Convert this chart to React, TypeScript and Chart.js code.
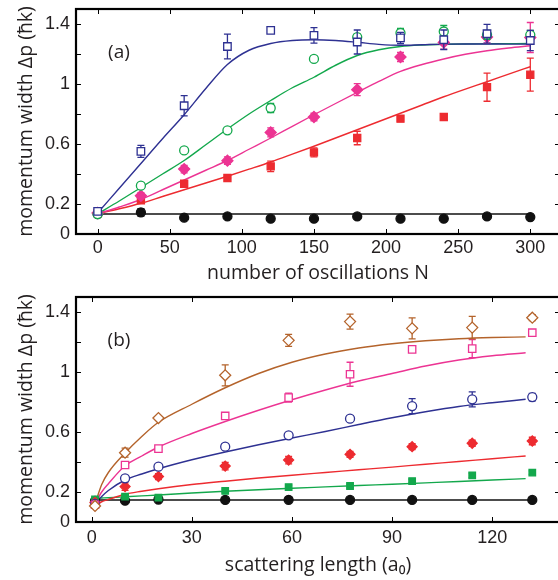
import React, { useEffect, useRef } from "react";
import { Chart, registerables } from "chart.js";
Chart.register(...registerables);

// ---------- Panel (a): momentum width vs number of oscillations ----------
const oscN = [0, 30, 60, 90, 120, 150, 180, 210, 240, 270, 300];
const aBlueSq = [0.151, 0.551, 0.855, 1.25, 1.357, 1.324, 1.28, 1.307, 1.295, 1.335, 1.29];
const aBlueSqErr = [0.012, 0.04, 0.067, 0.083, 0, 0.052, 0.08, 0.037, 0.065, 0.063, 0.067];
const aGreenCirc = [0.133, 0.322, 0.557, 0.691, 0.84, 1.167, 1.313, 1.34, 1.35, 1.328, 1.328];
const aGreenCircErr = [0, 0.01, 0.015, 0, 0.03, 0.01, 0.02, 0.03, 0.04, 0.03, 0.03];
const aMagDia = [0.14, 0.255, 0.433, 0.489, 0.677, 0.78, 0.962, 1.18, 1.277, 1.313, 1.31];
const aMagDiaErr = [0, 0.02, 0.025, 0.025, 0.03, 0.025, 0.04, 0.03, 0.045, 0.04, 0.1];
const aRedSq = [0.14, 0.224, 0.335, 0.373, 0.451, 0.544, 0.64, 0.769, 0.78, 0.979, 1.062];
const aRedSqErr = [0, 0.015, 0.02, 0.01, 0.035, 0.03, 0.045, 0.02, 0.02, 0.094, 0.11];
const aBlackCirc = [0.133, 0.144, 0.109, 0.117, 0.102, 0.102, 0.117, 0.102, 0.102, 0.117, 0.113];
const aBlackCircErr = [0, 0.025, 0, 0, 0, 0, 0, 0, 0, 0, 0];

const aFitN = [0, 15, 30, 45, 60, 75, 90, 105, 120, 135, 150, 165, 180, 195, 210, 225, 240, 255, 270, 285, 300];
const aFitBlue = [0.14, 0.305, 0.47, 0.635, 0.795, 0.97, 1.13, 1.225, 1.27, 1.29, 1.295, 1.29, 1.278, 1.264, 1.258, 1.262, 1.266, 1.267, 1.267, 1.266, 1.266];
const aFitGreen = [0.135, 0.22, 0.31, 0.4, 0.49, 0.595, 0.7, 0.8, 0.89, 0.975, 1.045, 1.125, 1.19, 1.228, 1.25, 1.26, 1.265, 1.267, 1.268, 1.269, 1.27];
const aFitMag = [0.135, 0.18, 0.23, 0.295, 0.36, 0.425, 0.49, 0.565, 0.64, 0.718, 0.795, 0.87, 0.944, 1.017, 1.084, 1.13, 1.167, 1.198, 1.222, 1.24, 1.255];
const aFitRed = [0.135, 0.168, 0.205, 0.25, 0.295, 0.34, 0.385, 0.432, 0.48, 0.532, 0.585, 0.64, 0.695, 0.75, 0.805, 0.86, 0.915, 0.966, 1.015, 1.066, 1.115];
const aFitBlackN = [0, 300];
const aFitBlack = [0.133, 0.133];

const aXTicks = [0, 50, 100, 150, 200, 250, 300];
const aXTickLabels = ["0", "50", "100", "150", "200", "250", "300"];

// ---------- Panel (b): momentum width vs scattering length ----------
const scatA = [1, 10, 20, 40, 59, 77.4, 96, 114, 132];
const bBrownDia = [0.107, 0.462, 0.693, 0.978, 1.211, 1.336, 1.291, 1.296, 1.362];
const bBrownDiaErr = [0, 0.03, 0, 0.07, 0.04, 0.05, 0.07, 0.075, 0.02];
const bPinkSq = [0.115, 0.38, 0.489, 0.707, 0.829, 0.985, 1.151, 1.156, 1.262];
const bPinkSqErr = [0, 0, 0, 0, 0.03, 0.08, 0.02, 0.06, 0.015];
const bBlueCirc = [0.12, 0.291, 0.369, 0.502, 0.578, 0.689, 0.773, 0.818, 0.833];
const bBlueCircErr = [0, 0, 0, 0.02, 0.015, 0, 0.05, 0.05, 0.025];
const bRedDia = [0.13, 0.236, 0.303, 0.373, 0.413, 0.451, 0.502, 0.525, 0.54];
const bRedDiaErr = [0, 0.025, 0.02, 0.025, 0.025, 0.02, 0.02, 0.02, 0.025];
const bGreenSq = [0.15, 0.169, 0.162, 0.207, 0.233, 0.24, 0.273, 0.311, 0.329];
const bGreenSqErr = [0, 0.01, 0.01, 0.012, 0.012, 0.012, 0.012, 0.015, 0.012];
const bBlackCirc = [0.14, 0.142, 0.15, 0.147, 0.148, 0.147, 0.147, 0.147, 0.147];

const bFitA = [1, 3, 5, 10, 15, 20, 30, 40, 50, 60, 70, 80, 90, 100, 110, 120, 130];
const bFitBrown = [0.12, 0.25, 0.33, 0.46, 0.57, 0.665, 0.785, 0.895, 0.99, 1.065, 1.12, 1.16, 1.188, 1.208, 1.222, 1.23, 1.234];
const bFitPink = [0.12, 0.2, 0.255, 0.375, 0.44, 0.5, 0.59, 0.67, 0.745, 0.815, 0.88, 0.94, 0.99, 1.04, 1.08, 1.108, 1.128];
const bFitBlue = [0.12, 0.17, 0.21, 0.28, 0.32, 0.355, 0.415, 0.467, 0.515, 0.56, 0.603, 0.65, 0.695, 0.735, 0.77, 0.795, 0.818];
const bFitRed = [0.11, 0.135, 0.15, 0.185, 0.205, 0.222, 0.25, 0.272, 0.293, 0.312, 0.33, 0.348, 0.366, 0.385, 0.403, 0.422, 0.44];
const bFitGreen = [0.158, 0.16, 0.162, 0.168, 0.174, 0.18, 0.193, 0.205, 0.215, 0.225, 0.234, 0.243, 0.252, 0.261, 0.27, 0.28, 0.289];
const bFitBlackA = [1, 132];
const bFitBlack = [0.147, 0.147];

const bXTicks = [0, 30, 60, 90, 120];
const bXTickLabels = ["0", "30", "60", "90", "120"];

// ---------- shared y axis ticks ----------
const yTicks = [0, 0.2, 0.4, 0.6, 0.8, 1.0, 1.2, 1.4];
const yTickLabels = ["0", "0.2", "", "0.6", "", "1", "", "1.4"];

const NAVY = "#2e3192";
const GREEN = "#13a84c";
const MAGENTA = "#ec3493";
const RED = "#ed2b30";
const BROWN = "#b4632b";
const BLACK = "#111111";

const TITLE_FONT = "'Open Sans', 'DejaVu Sans', sans-serif";
const TICK_FONT = "'Liberation Sans', Arial, sans-serif";

const CANVAS_W = 568;
const RIGHT_PAD = 8;

const zip = (xs: number[], ys: number[]) => xs.map((x, i) => ({ x, y: ys[i] }));

const errorBarPlugin = {
  id: "errbars",
  beforeDatasetDraw(chart: any, args: any) {
    const ds: any = chart.data.datasets[args.index];
    if (!ds.errors) return;
    const xs = chart.scales.x;
    const ys = chart.scales.y;
    const ctx = chart.ctx;
    ctx.save();
    ctx.strokeStyle = ds.borderColor;
    ctx.lineWidth = 1.3;
    ctx.beginPath();
    ds.data.forEach((p: any, i: number) => {
      const e = ds.errors[i];
      if (!e) return;
      const px = xs.getPixelForValue(p.x);
      const y1 = ys.getPixelForValue(p.y - e);
      const y2 = ys.getPixelForValue(p.y + e);
      ctx.moveTo(px, y1);
      ctx.lineTo(px, y2);
      ctx.moveTo(px - 3.5, y1);
      ctx.lineTo(px + 3.5, y1);
      ctx.moveTo(px - 3.5, y2);
      ctx.lineTo(px + 3.5, y2);
    });
    ctx.stroke();
    ctx.restore();
  },
};

const framePlugin = {
  id: "frame",
  afterDraw(chart: any, _args: any, opts: any) {
    const { ctx, chartArea: ca } = chart;
    const xs = chart.scales.x;
    const ys = chart.scales.y;
    ctx.save();
    ctx.strokeStyle = "#000";
    ctx.lineWidth = 1;
    ctx.beginPath();
    xs.ticks.forEach((t: any) => {
      const px = Math.round(xs.getPixelForValue(t.value)) + 0.5;
      ctx.moveTo(px, ca.bottom);
      ctx.lineTo(px, ca.bottom - 5);
      ctx.moveTo(px, ca.top);
      ctx.lineTo(px, ca.top + 5);
    });
    ys.ticks.forEach((t: any) => {
      const py = Math.round(ys.getPixelForValue(t.value)) + 0.5;
      ctx.moveTo(ca.left, py);
      ctx.lineTo(ca.left + 5, py);
      ctx.moveTo(ca.right, py);
      ctx.lineTo(ca.right - 5, py);
    });
    ctx.stroke();
    ctx.lineWidth = 2.2;
    ctx.strokeRect(ca.left, ca.top, ca.right - ca.left, ca.bottom - ca.top);
    ctx.fillStyle = "#231f20";
    ctx.font = `19px ${TITLE_FONT}`;
    ctx.textAlign = "center";
    ctx.textBaseline = "middle";
    ctx.fillText(opts.label, ca.left + 43, ca.top + 44);
    ctx.restore();
  },
};

function pointSet(data: any[], errors: number[] | null, color: string, style: string, radius: number, filled: boolean, order: number) {
  return {
    type: "scatter",
    data,
    errors,
    showLine: false,
    pointStyle: style,
    pointRadius: radius,
    pointHoverRadius: radius,
    pointBorderWidth: 1.3,
    borderColor: color,
    pointBorderColor: color,
    backgroundColor: filled ? color : "#ffffff",
    pointBackgroundColor: filled ? color : "#ffffff",
    order,
  };
}

function fitSet(data: any[], color: string, order: number) {
  return {
    type: "line",
    data,
    borderColor: color,
    borderWidth: 1.4,
    pointRadius: 0,
    pointHoverRadius: 0,
    fill: false,
    cubicInterpolationMode: "monotone",
    order,
  };
}

function makeConfig(p: {
  datasets: any[];
  xMin: number;
  xMax: number;
  xTicks: number[];
  xLabels: string[];
  xTitle: string;
  topPad: number;
  xHeight: number;
  tickPad: number;
  titlePad: number;
  label: string;
}) {
  return {
    type: "scatter",
    data: { datasets: p.datasets },
    plugins: [errorBarPlugin, framePlugin],
    options: {
      responsive: false,
      animation: false,
      devicePixelRatio: 1,
      events: [],
      layout: { padding: { top: p.topPad, right: RIGHT_PAD, left: 0, bottom: 0 } },
      plugins: {
        legend: { display: false },
        tooltip: { enabled: false },
        frame: { label: p.label },
      },
      scales: {
        x: {
          type: "linear",
          min: p.xMin,
          max: p.xMax,
          grid: { display: false, drawTicks: false },
          border: { display: false },
          afterBuildTicks: (s: any) => {
            s.ticks = p.xTicks.map((v) => ({ value: v }));
          },
          afterFit: (s: any) => {
            s.height = p.xHeight;
            s.paddingLeft = 0;
            s.paddingRight = 0;
            s.paddingTop = 0;
            s.paddingBottom = 0;
          },
          ticks: {
            padding: p.tickPad,
            color: "#231f20",
            font: { family: TICK_FONT, size: 18 },
            maxRotation: 0,
            autoSkip: false,
            callback: (_v: any, i: number) => p.xLabels[i],
          },
          title: {
            display: true,
            text: p.xTitle,
            color: "#231f20",
            font: { family: TITLE_FONT, size: 19.5 },
            padding: { top: 0, bottom: p.titlePad },
          },
        },
        y: {
          type: "linear",
          min: 0,
          max: 1.5,
          grid: { display: false, drawTicks: false },
          border: { display: false },
          afterBuildTicks: (s: any) => {
            s.ticks = yTicks.map((v) => ({ value: v }));
          },
          afterFit: (s: any) => {
            s.width = 76;
            s.paddingLeft = 0;
            s.paddingRight = 0;
            s.paddingTop = 0;
            s.paddingBottom = 0;
          },
          ticks: {
            padding: 6,
            color: "#231f20",
            font: { family: TICK_FONT, size: 18 },
            autoSkip: false,
            callback: (_v: any, i: number) => yTickLabels[i],
          },
          title: {
            display: true,
            text: "momentum width Δp (ħk)",
            color: "#231f20",
            font: { family: TITLE_FONT, size: 19.5 },
            padding: { top: 15, bottom: 0 },
          },
        },
      },
    },
  };
}

function Panel({ config, top }: { config: any; top: number }) {
  const ref = useRef<HTMLCanvasElement | null>(null);
  useEffect(() => {
    if (!ref.current) return;
    const chart = new Chart(ref.current, config);
    return () => chart.destroy();
  }, [config]);
  return (
    <canvas
      ref={ref}
      width={CANVAS_W}
      height={290}
      style={{ position: "absolute", left: 0, top, width: CANVAS_W, height: 290 }}
    />
  );
}

const configA = makeConfig({
  datasets: [
    pointSet(zip(oscN, aBlueSq), aBlueSqErr, NAVY, "rect", 5.3, false, 1),
    pointSet(zip(oscN, aGreenCirc), aGreenCircErr, GREEN, "circle", 4.5, false, 2),
    pointSet(zip(oscN, aMagDia), aMagDiaErr, MAGENTA, "rectRot", 5.5, true, 3),
    pointSet(zip(oscN, aRedSq), aRedSqErr, RED, "rect", 5, true, 4),
    pointSet(zip(oscN, aBlackCirc), aBlackCircErr, BLACK, "circle", 4.5, true, 5),
    fitSet(zip(aFitN, aFitBlue), NAVY, 6),
    fitSet(zip(aFitN, aFitGreen), GREEN, 7),
    fitSet(zip(aFitN, aFitMag), MAGENTA, 8),
    fitSet(zip(aFitN, aFitRed), RED, 9),
    fitSet(zip(aFitBlackN, aFitBlack), BLACK, 10),
  ],
  xMin: -15,
  xMax: 320.6,
  xTicks: aXTicks,
  xLabels: aXTickLabels,
  xTitle: "number of oscillations N",
  topPad: 9,
  xHeight: 56,
  tickPad: 3,
  titlePad: 5,
  label: "(a)",
});

const configB = makeConfig({
  datasets: [
    pointSet(zip(scatA, bBrownDia), bBrownDiaErr, BROWN, "rectRot", 5.5, false, 1),
    pointSet(zip(scatA, bPinkSq), bPinkSqErr, MAGENTA, "rect", 5.2, false, 2),
    pointSet(zip(scatA, bBlueCirc), bBlueCircErr, NAVY, "circle", 4.5, false, 3),
    pointSet(zip(scatA, bRedDia), bRedDiaErr, RED, "rectRot", 5, true, 4),
    pointSet(zip(scatA, bGreenSq), bGreenSqErr, GREEN, "rect", 4.6, true, 5),
    pointSet(zip(scatA, bBlackCirc), null, BLACK, "circle", 4.5, true, 6),
    fitSet(zip(bFitA, bFitBrown), BROWN, 7),
    fitSet(zip(bFitA, bFitPink), MAGENTA, 8),
    fitSet(zip(bFitA, bFitBlue), NAVY, 9),
    fitSet(zip(bFitA, bFitRed), RED, 10),
    fitSet(zip(bFitA, bFitGreen), GREEN, 11),
    fitSet(zip(bFitBlackA, bFitBlack), BLACK, 12),
  ],
  xMin: -4.7,
  xMax: 140.3,
  xTicks: bXTicks,
  xLabels: bXTickLabels,
  xTitle: "scattering length (a₀)",
  topPad: 7,
  xHeight: 58,
  tickPad: 5,
  titlePad: 2.5,
  label: "(b)",
});

export default function App() {
  return (
    <div
      style={{
        position: "fixed",
        left: 0,
        top: 0,
        width: 558,
        height: 580,
        overflow: "hidden",
        background: "#ffffff",
      }}
    >
      <Panel config={configA} top={0} />
      <Panel config={configB} top={290} />
    </div>
  );
}
